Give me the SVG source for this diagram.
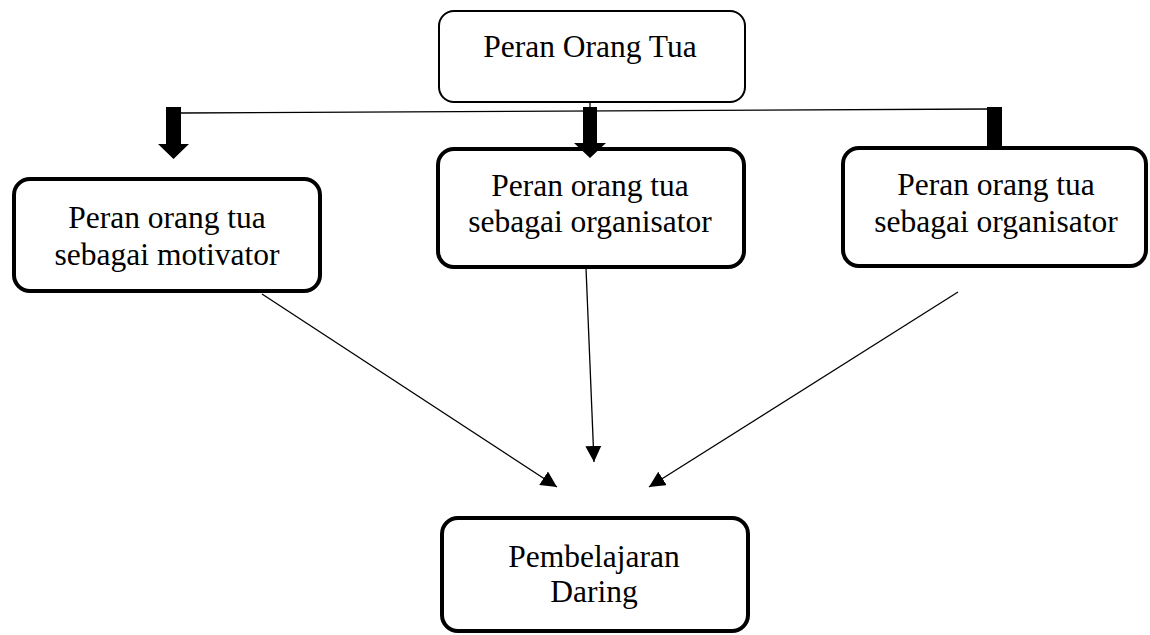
<svg xmlns="http://www.w3.org/2000/svg" width="1150" height="635" viewBox="0 0 1150 635">
<defs>
<style>
.box{fill:#fff;stroke:#000;stroke-width:4}
.thin{fill:#fff;stroke:#000;stroke-width:2}
.t{font-family:"Liberation Serif","Times New Roman",serif;font-size:31.5px;fill:#000;text-anchor:middle}
.ln{stroke:#000;stroke-width:1.3;fill:none}
.blk{fill:#000;stroke:none}
</style>
<marker id="ah" markerWidth="16" markerHeight="16" refX="16" refY="8" orient="auto" markerUnits="userSpaceOnUse">
<path d="M0,0 L16,8 L0,16 Z" fill="#000"/>
</marker>
</defs>
<rect width="1150" height="635" fill="#fff"/>
<g id="nodes">
<g id="top"><rect class="thin" x="439" y="11" width="306" height="91" rx="15"/><text class="t" x="590" y="57">Peran Orang Tua</text></g>
<g id="left"><rect class="box" x="14" y="179" width="306" height="112" rx="16"/><text class="t" x="167" y="228">Peran orang tua</text><text class="t" x="167" y="265">sebagai motivator</text></g>
<g id="mid"><rect class="box" x="438" y="149" width="306" height="118" rx="16"/><text class="t" x="590" y="196">Peran orang tua</text><text class="t" x="590" y="232">sebagai organisator</text></g>
<g id="right"><rect class="box" x="843" y="148" width="303" height="118" rx="16"/><text class="t" x="996" y="195">Peran orang tua</text><text class="t" x="996" y="232">sebagai organisator</text></g>
<g id="bottom"><rect class="box" x="442" y="518" width="306" height="113" rx="16"/><text class="t" x="594" y="567">Pembelajaran</text><text class="t" x="594" y="602">Daring</text></g>
</g>
<g id="connectors">
<line class="ln" x1="181" y1="113" x2="988" y2="109"/>
<line class="ln" x1="590" y1="102" x2="590" y2="108"/>
<polygon class="blk" points="166,107 181,107 181,144 189,144 173.5,159 158,144 166,144"/>
<polygon class="blk" points="583,107 597,107 597,143 606,143 590,158 574,143 583,143"/>
<rect class="blk" x="987" y="107" width="15" height="40"/>
<line class="ln" x1="262" y1="294" x2="557" y2="487" marker-end="url(#ah)"/>
<line class="ln" x1="586" y1="268" x2="594" y2="462" marker-end="url(#ah)"/>
<line class="ln" x1="958" y1="292" x2="649" y2="487" marker-end="url(#ah)"/>
</g>
</svg>
